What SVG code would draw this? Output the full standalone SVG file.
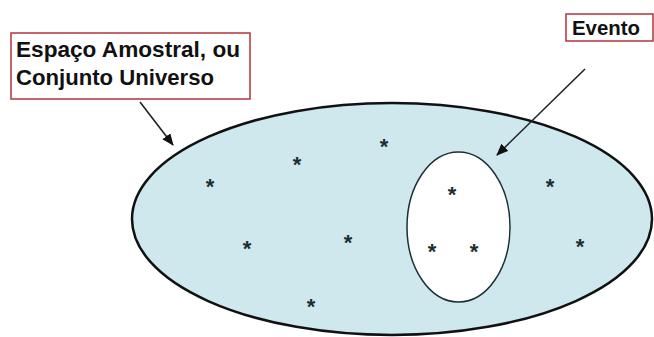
<svg xmlns="http://www.w3.org/2000/svg" width="654" height="337" viewBox="0 0 654 337">
<defs>
<style>
.lbl{font-family:"Liberation Sans",Arial,sans-serif;font-weight:bold;fill:#111;}
.box{fill:#fff;stroke:#b3353c;stroke-width:1.5;}
.star{font-family:"Liberation Sans",Arial,sans-serif;font-weight:bold;font-size:22px;fill:#1c2e30;text-anchor:middle;}
.conn{stroke:#222;stroke-width:1.6;fill:none;marker-end:url(#ah);}
</style>
<marker id="ah" viewBox="0 0 12 10" refX="11" refY="5" markerWidth="12" markerHeight="10" markerUnits="userSpaceOnUse" orient="auto">
<path d="M0,0 L12,5 L0,10 Z" fill="#111"/>
</marker>
</defs>
<rect width="654" height="337" fill="#fff"/>
<g id="universo">
<ellipse cx="392" cy="219" rx="260" ry="116" fill="#cfe8ee" stroke="#111" stroke-width="2.5"/>
</g>
<g id="evento-set">
<ellipse cx="458.5" cy="227" rx="51.5" ry="75" fill="#fff" stroke="#1e3033" stroke-width="1.5"/>
</g>
<g id="stars">
<text class="star" x="210" y="194">*</text>
<text class="star" x="297" y="172">*</text>
<text class="star" x="384" y="154">*</text>
<text class="star" x="247" y="256">*</text>
<text class="star" x="348" y="250">*</text>
<text class="star" x="311" y="314">*</text>
<text class="star" x="452" y="202">*</text>
<text class="star" x="432" y="259">*</text>
<text class="star" x="474" y="259">*</text>
<text class="star" x="550" y="194">*</text>
<text class="star" x="580" y="254">*</text>
</g>
<g id="label-espaco">
<rect class="box" x="11" y="33" width="239" height="66"/>
<text class="lbl" x="16" y="57" font-size="22" textLength="224" lengthAdjust="spacingAndGlyphs">Espaço Amostral, ou</text>
<text class="lbl" x="16" y="85" font-size="22" textLength="198" lengthAdjust="spacingAndGlyphs">Conjunto Universo</text>
</g>
<g id="label-evento">
<rect class="box" x="566" y="14" width="87" height="27"/>
<text class="lbl" x="572" y="35" font-size="20" textLength="68" lengthAdjust="spacingAndGlyphs">Evento</text>
</g>
<g id="connectors">
<line class="conn" x1="140" y1="102" x2="173" y2="145"/>
<line class="conn" x1="585" y1="69" x2="497" y2="155"/>
</g>
</svg>
